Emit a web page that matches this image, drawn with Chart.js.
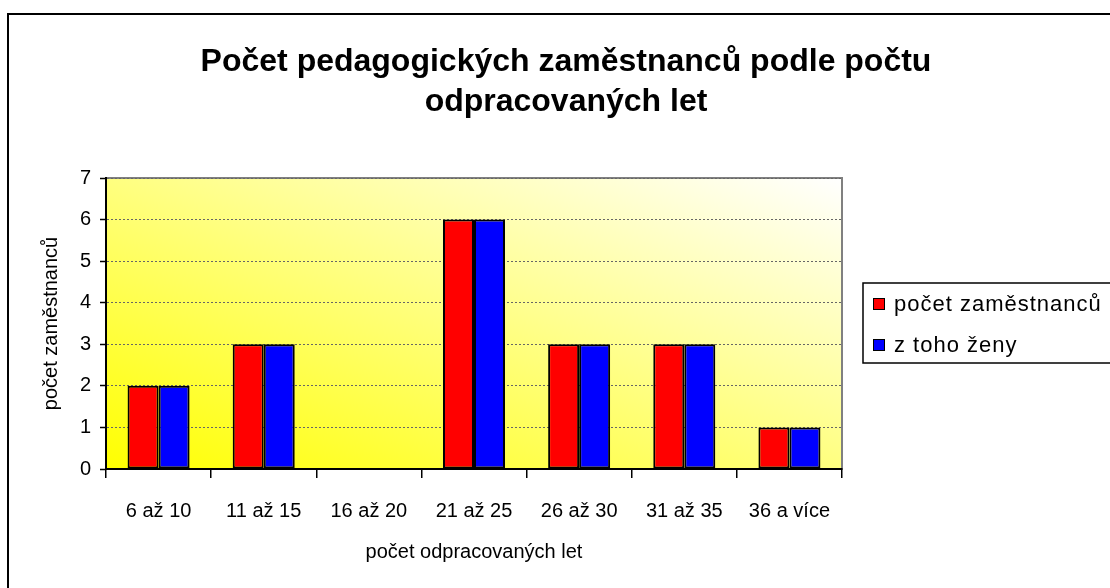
<!DOCTYPE html>
<html>
<head>
<meta charset="utf-8">
<script src="https://cdn.jsdelivr.net/npm/chart.js@4.4.0/dist/chart.umd.min.js"></script>
<style>
  body { margin: 0; background: #fff; overflow: hidden; }
  #frame { position: absolute; left: 7px; top: 13px; width: 1200px; height: 700px; border: 2px solid #000; }
  #wrap { position: absolute; left: 0; top: 0; width: 1110px; height: 588px; }
</style>
</head>
<body>
<div id="frame"></div>
<div id="wrap"><canvas id="chart"></canvas></div>
<script>
const categories = ['6 až 10', '11 až 15', '16 až 20', '21 až 25', '26 až 30', '31 až 35', '36 a více'];
const totalStaff = [2, 3, 0, 6, 3, 3, 1];
const womenStaff = [2, 3, 0, 6, 3, 3, 1];
const seriesNames = ['počet zaměstnanců', 'z toho ženy'];
const seriesColors = ['#ff0000', '#0000ff'];
const yMin = 0, yMax = 7, yStep = 1;

const FONT = "'Liberation Sans', Arial, sans-serif";

// yellow gradient behind the plot, plus grey frame
const plotBackground = {
    id: 'plotBackground',
    beforeDraw(chart) {
        const { ctx, chartArea: a } = chart;
        const w = a.right - a.left, h = a.bottom - a.top;
        const k = 2 * w * h / (w * w + h * h);
        const g = ctx.createLinearGradient(a.left, a.bottom, a.left + h * k, a.bottom - w * k);
        g.addColorStop(0, '#ffff00');
        g.addColorStop(1, '#ffffff');
        ctx.save();
        ctx.fillStyle = g;
        ctx.fillRect(a.left, a.top, w, h);
        ctx.strokeStyle = '#808080';
        ctx.lineWidth = 2;
        ctx.strokeRect(a.left, a.top, w, h);
        ctx.restore();
    }
};

// boxed legend on the right
const boxLegend = {
    id: 'boxLegend',
    afterDraw(chart) {
        const { ctx } = chart;
        const x = 863, y = 283;
        ctx.save();
        ctx.strokeStyle = '#000';
        ctx.lineWidth = 1.5;
        ctx.strokeRect(x, y, 300, 80);
        ctx.font = '22px ' + FONT;
        ctx.textBaseline = 'middle';
        ctx.letterSpacing = '1px';
        chart.data.datasets.forEach((ds, i) => {
            const cy = y + 21 + i * 41;
            ctx.fillStyle = ds.backgroundColor;
            ctx.fillRect(x + 10, cy - 6, 12, 12);
            ctx.lineWidth = 1;
            ctx.strokeRect(x + 10.5, cy - 5.5, 11, 11);
            ctx.fillStyle = '#000';
            ctx.fillText(ds.label, x + 31, cy + 1);
        });
        ctx.restore();
    }
};

const canvas = document.getElementById('chart');
new Chart(canvas, {
    type: 'bar',
    data: {
        labels: categories,
        datasets: [
            { label: seriesNames[0], data: totalStaff, backgroundColor: seriesColors[0], borderColor: '#000', borderWidth: 2 },
            { label: seriesNames[1], data: womenStaff, backgroundColor: seriesColors[1], borderColor: '#000', borderWidth: 2 }
        ]
    },
    options: {
        responsive: true,
        maintainAspectRatio: false,
        animation: false,
        layout: { padding: { left: 22, right: 0, top: 0, bottom: 0 } },
        datasets: { bar: { categoryPercentage: 0.59, barPercentage: 1, borderSkipped: false } },
        plugins: {
            legend: { display: false },
            tooltip: { enabled: false },
            title: {
                display: true,
                text: ['Počet pedagogických zaměstnanců podle počtu', 'odpracovaných let'],
                color: '#000',
                font: { family: FONT, size: 32, weight: 'bold', lineHeight: 1.25 },
                padding: { top: 42, bottom: 56 }
            }
        },
        scales: {
            x: {
                afterFit: (s) => { s.height = 119; },
                grid: { drawOnChartArea: false, drawTicks: true, tickLength: 9, color: '#000', lineWidth: 1.5 },
                border: { color: '#000', width: 2 },
                ticks: { color: '#000', font: { family: FONT, size: 20 }, padding: 21, maxRotation: 0, autoSkip: false },
                title: { display: true, text: 'počet odpracovaných let', color: '#000', font: { family: FONT, size: 20 }, padding: { top: 0, bottom: 24 } }
            },
            y: {
                min: yMin,
                max: yMax,
                afterFit: (s) => { s.width = 84; },
                grid: { color: '#666666', lineWidth: 1, tickLength: 6, tickColor: '#000', tickWidth: 1.5 },
                border: { color: '#000', width: 2, dash: [2, 2] },
                ticks: { stepSize: yStep, color: '#000', font: { family: FONT, size: 20 }, padding: 9 },
                title: { display: true, text: 'počet zaměstnanců', color: '#000', font: { family: FONT, size: 20 }, padding: { top: 17, bottom: 0 } }
            },
            y2: {
                position: 'right',
                afterFit: (s) => { s.width = 268; },
                grid: { display: false },
                border: { display: false },
                ticks: { display: false }
            }
        }
    },
    plugins: [plotBackground, boxLegend]
});
</script>
</body>
</html>
